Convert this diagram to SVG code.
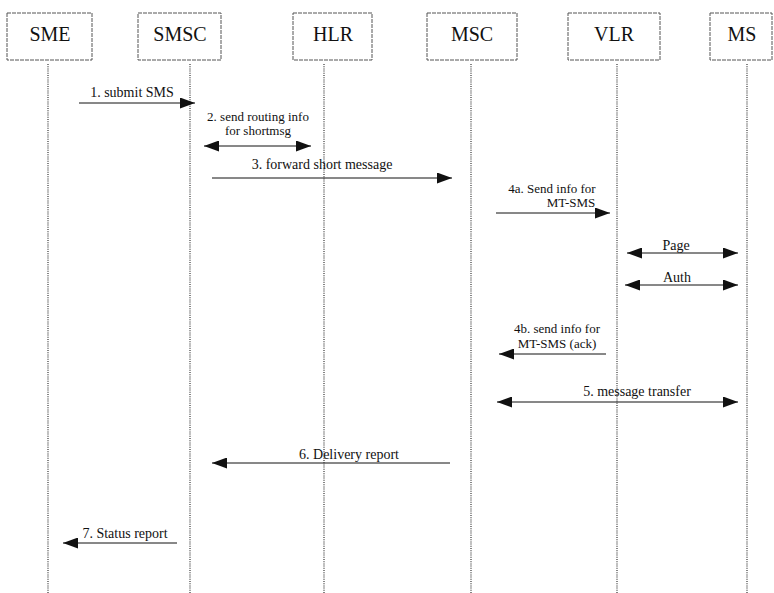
<svg xmlns="http://www.w3.org/2000/svg" width="774" height="593" viewBox="0 0 774 593">
<style>
.box{fill:#fff;stroke:#555;stroke-width:1;stroke-dasharray:4 1}
.title{font-family:"Liberation Serif","Times New Roman",serif;font-size:20px;fill:#111;text-anchor:middle}
.life{stroke:#333;stroke-width:1.2;stroke-dasharray:1 1.2}
.msg{stroke:#111;stroke-width:1;fill:none}
.lbl{font-family:"Liberation Serif","Times New Roman",serif;font-size:14px;fill:#111;text-anchor:middle}
.sm{font-size:13px}
</style>
<defs>
<marker id="ah" viewBox="0 0 15 11" refX="15" refY="5.5" markerWidth="15" markerHeight="11" markerUnits="userSpaceOnUse" orient="auto-start-reverse">
<path d="M0,0 L15,5.5 L0,11 Z" fill="#111"/>
</marker>
</defs>
<rect width="774" height="593" fill="#fff"/>
<g id="lifelines">
<line class="life" x1="48" y1="64" x2="48" y2="593"/>
<line class="life" x1="190" y1="64" x2="190" y2="593"/>
<line class="life" x1="324" y1="64" x2="324" y2="593"/>
<line class="life" x1="471" y1="64" x2="471" y2="593"/>
<line class="life" x1="617" y1="64" x2="617" y2="593"/>
<line class="life" x1="747" y1="64" x2="747" y2="593"/>
</g>
<g id="SME"><rect class="box" x="7" y="13" width="85" height="47"/><text class="title" x="50" y="41">SME</text></g>
<g id="SMSC"><rect class="box" x="138" y="13" width="83" height="47"/><text class="title" x="180" y="41">SMSC</text></g>
<g id="HLR"><rect class="box" x="293" y="13" width="79" height="47"/><text class="title" x="333" y="41">HLR</text></g>
<g id="MSC"><rect class="box" x="427" y="13" width="90" height="47"/><text class="title" x="472" y="41">MSC</text></g>
<g id="VLR"><rect class="box" x="568" y="13" width="92" height="47"/><text class="title" x="614" y="41">VLR</text></g>
<g id="MS"><rect class="box" x="710" y="13" width="62" height="47"/><text class="title" x="742" y="41">MS</text></g>
<g id="connectors">
<line class="msg" x1="79" y1="103" x2="195" y2="103" marker-end="url(#ah)"/>
<text class="lbl" x="132" y="97">1. submit SMS</text>
<line class="msg" x1="204" y1="146" x2="311" y2="146" marker-start="url(#ah)" marker-end="url(#ah)"/>
<text class="lbl sm" x="258" y="121">2. send routing info</text>
<text class="lbl sm" x="258" y="135">for shortmsg</text>
<line class="msg" x1="212" y1="178" x2="452" y2="178" marker-end="url(#ah)"/>
<text class="lbl" x="322" y="169">3. forward short message</text>
<line class="msg" x1="496" y1="213" x2="610" y2="213" marker-end="url(#ah)"/>
<text class="lbl sm" x="552" y="193">4a. Send info for</text>
<text class="lbl sm" x="571" y="207">MT-SMS</text>
<line class="msg" x1="627" y1="253" x2="738" y2="253" marker-start="url(#ah)" marker-end="url(#ah)"/>
<text class="lbl" x="676" y="250">Page</text>
<line class="msg" x1="625" y1="285" x2="738" y2="285" marker-start="url(#ah)" marker-end="url(#ah)"/>
<text class="lbl" x="677" y="282">Auth</text>
<line class="msg" x1="606" y1="354" x2="499" y2="354" marker-end="url(#ah)"/>
<text class="lbl sm" x="557" y="333">4b. send info for</text>
<text class="lbl sm" x="557" y="348">MT-SMS (ack)</text>
<line class="msg" x1="497" y1="402" x2="738" y2="402" marker-start="url(#ah)" marker-end="url(#ah)"/>
<text class="lbl" x="637" y="396">5. message transfer</text>
<line class="msg" x1="450" y1="463" x2="212" y2="463" marker-end="url(#ah)"/>
<text class="lbl" x="349" y="459">6. Delivery report</text>
<line class="msg" x1="177" y1="543" x2="63" y2="543" marker-end="url(#ah)"/>
<text class="lbl" x="125" y="538">7. Status report</text>
</g>
</svg>
